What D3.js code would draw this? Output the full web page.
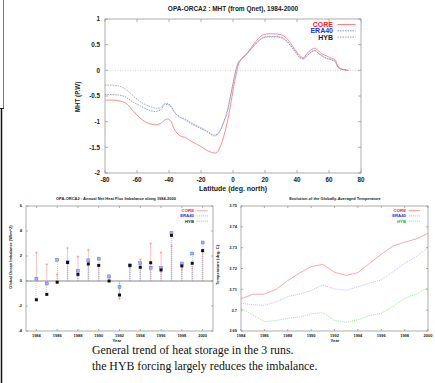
<!DOCTYPE html>
<html>
<head>
<meta charset="utf-8">
<script src="https://cdn.jsdelivr.net/npm/d3@7/dist/d3.min.js"></script>
<style>
  body { margin: 0; background: #fff; }
  svg { display: block; }
  .gp { font-family: "Liberation Sans", Arial, sans-serif; }
</style>
</head>
<body>
<svg id="slide" width="435" height="383"></svg>
<script>
// --- MHT (top panel) ---
const mhtLat    = [-80, -72, -67, -63, -58, -53, -48, -45, -42.8, -40.5, -38.6, -37, -35, -32.8, -29.7, -25.6, -20.4, -16.2, -12, -10, -7.9, -5.8, -3.7, -1.7, 0.4, 2.1, 3.7, 5.6, 8.7, 11.8, 15, 18.1, 21.2, 25.4, 29.5, 32.6, 35.7, 38.9, 42, 44.1, 46.1, 49.2, 51.3, 53.4, 55.5, 58.6, 61.7, 63.8, 65.2, 66.9, 70, 72];
const mhtCore   = [-0.58, -0.59, -0.64, -0.77, -0.93, -1.03, -1.06, -1.03, -0.97, -0.95, -1.0, -1.13, -1.22, -1.28, -1.31, -1.39, -1.48, -1.56, -1.61, -1.6, -1.48, -1.29, -1.03, -0.71, -0.32, -0.06, 0.14, 0.23, 0.33, 0.46, 0.59, 0.68, 0.71, 0.71, 0.70, 0.65, 0.54, 0.40, 0.28, 0.25, 0.32, 0.41, 0.43, 0.38, 0.32, 0.28, 0.23, 0.21, 0.10, 0.04, 0.01, 0];
const mhtEra40  = [-0.47, -0.48, -0.52, -0.61, -0.69, -0.77, -0.80, -0.76, -0.67, -0.67, -0.72, -0.80, -0.87, -0.92, -0.97, -1.05, -1.13, -1.19, -1.26, -1.25, -1.16, -1.0, -0.80, -0.51, -0.19, 0.04, 0.17, 0.23, 0.32, 0.43, 0.54, 0.62, 0.65, 0.65, 0.64, 0.59, 0.49, 0.36, 0.25, 0.23, 0.28, 0.36, 0.38, 0.33, 0.28, 0.23, 0.20, 0.17, 0.08, 0.03, 0.01, 0];
const mhtHyb    = [-0.29, -0.30, -0.37, -0.48, -0.61, -0.69, -0.74, -0.72, -0.65, -0.65, -0.70, -0.79, -0.87, -0.91, -0.95, -1.03, -1.11, -1.19, -1.28, -1.26, -1.17, -1.02, -0.84, -0.54, -0.22, 0.03, 0.16, 0.23, 0.32, 0.44, 0.55, 0.63, 0.66, 0.66, 0.65, 0.60, 0.50, 0.37, 0.24, 0.22, 0.28, 0.37, 0.39, 0.34, 0.29, 0.24, 0.21, 0.18, 0.09, 0.03, 0.01, 0];

// --- yearly panels ---
const years     = [1984, 1985, 1986, 1987, 1988, 1989, 1990, 1991, 1992, 1993, 1994, 1995, 1996, 1997, 1998, 1999, 2000];
const fluxCore  = [2.27, 1.33, 0.53, 2.64, 1.95, 2.48, 1.2, 0.3, -1.41, 1.1, 1.72, 3.0, 2.28, 2.8, 0.93, 1.4, 2.4];
const fluxEra40 = [0.19, -0.2, 1.7, 1.5, 0.83, 1.65, 1.79, 0.37, -0.48, 1.25, 1.42, 1.06, 1.06, 3.85, 1.4, 2.2, 3.08];
const fluxHyb   = [-1.5, -1.07, -0.1, 1.48, 0.53, 1.36, 1.25, 0.0, -1.12, 1.25, 1.1, 1.46, 0.88, 3.65, 1.2, 1.42, 2.43];

const tempCore  = [3.7055, 3.7076, 3.7077, 3.710, 3.7142, 3.7178, 3.7209, 3.722, 3.7182, 3.7167, 3.718, 3.7225, 3.7268, 3.7308, 3.7326, 3.7342, 3.7369];
const tempEra40 = [3.7033, 3.7026, 3.7023, 3.704, 3.7065, 3.7077, 3.7095, 3.7121, 3.7102, 3.7095, 3.7113, 3.713, 3.7145, 3.7185, 3.7225, 3.7257, 3.7302];
const tempHyb   = [3.7009, 3.6977, 3.6945, 3.695, 3.6961, 3.6967, 3.6982, 3.6988, 3.6951, 3.6942, 3.6954, 3.6974, 3.6985, 3.7017, 3.7057, 3.7077, 3.7108];

const runNames  = ["CORE", "ERA40", "HYB"];
const caption   = ["General trend of heat storage in the 3 runs.", "the HYB forcing largely reduces the imbalance."];

const svg = d3.select("#slide");

// slide edge lines at the left
svg.append("line").attr("x1", 3.5).attr("x2", 3.5).attr("y1", 0).attr("y2", 109).attr("stroke", "#777").attr("stroke-width", 1);
svg.append("line").attr("x1", 0).attr("x2", 4).attr("y1", 108.5).attr("y2", 108.5).attr("stroke", "#222").attr("stroke-width", 1);
svg.append("line").attr("x1", 1.5).attr("x2", 1.5).attr("y1", 108).attr("y2", 383).attr("stroke", "#111").attr("stroke-width", 1.5);

// draws a gnuplot-like frame with mirrored ticks
function frame(g, x, y, xTicks, yTicks, o) {
  const [x0, x1] = x.range(), [y1, y0] = y.range();
  g.append("rect").attr("x", x0).attr("y", y0).attr("width", x1 - x0).attr("height", y1 - y0)
    .attr("fill", "none").attr("stroke", "#999").attr("stroke-width", 0.8);
  xTicks.forEach(t => {
    const px = x(t);
    g.append("line").attr("x1", px).attr("x2", px).attr("y1", y1).attr("y2", y1 - o.tick).attr("stroke", "#999").attr("stroke-width", 0.8);
    g.append("line").attr("x1", px).attr("x2", px).attr("y1", y0).attr("y2", y0 + o.tick).attr("stroke", "#999").attr("stroke-width", 0.8);
    g.append("text").attr("class", "gp").attr("x", px).attr("y", y1 + o.xlabDy)
      .attr("text-anchor", "middle").attr("font-size", o.fs).attr("font-weight", "bold").attr("fill", "#222")
      .text(o.xfmt ? o.xfmt(t) : t);
  });
  yTicks.forEach(t => {
    const py = y(t);
    g.append("line").attr("x1", x0).attr("x2", x0 + o.tick).attr("y1", py).attr("y2", py).attr("stroke", "#999").attr("stroke-width", 0.8);
    g.append("line").attr("x1", x1).attr("x2", x1 - o.tick).attr("y1", py).attr("y2", py).attr("stroke", "#999").attr("stroke-width", 0.8);
    g.append("text").attr("class", "gp").attr("x", x0 - o.ylabDx).attr("y", py).attr("dy", "0.35em")
      .attr("text-anchor", "end").attr("font-size", o.fs).attr("font-weight", "bold").attr("fill", "#222")
      .text(o.yfmt ? o.yfmt(t) : t);
  });
}

function legend(g, items, xr, y0, dy, len, fs) {
  items.forEach((it, i) => {
    const yy = y0 + i * dy;
    g.append("text").attr("class", "gp").attr("x", xr).attr("y", yy).attr("dy", "0.35em")
      .attr("text-anchor", "end").attr("font-size", fs).attr("font-weight", "bold").attr("fill", it.text)
      .text(it.name);
    g.append("line").attr("x1", xr + len * 0.25).attr("x2", xr + len * 1.25).attr("y1", yy).attr("y2", yy)
      .attr("stroke", it.color).attr("stroke-width", 0.9).attr("stroke-dasharray", it.dash || null);
  });
}

function title(g, txt, x, y, fs) {
  g.append("text").attr("class", "gp").attr("x", x).attr("y", y).attr("text-anchor", "middle")
    .attr("font-size", fs).attr("font-weight", "bold").attr("fill", "#222").text(txt);
}
function ylab(g, txt, x, y, fs) {
  g.append("text").attr("class", "gp").attr("transform", `translate(${x},${y}) rotate(-90)`)
    .attr("text-anchor", "middle").attr("font-size", fs).attr("font-weight", "bold").attr("fill", "#222").text(txt);
}

// ---------- top: MHT ----------
{
  const g = svg.append("g");
  const x = d3.scaleLinear().domain([-80, 80]).range([105, 361]);
  const y = d3.scaleLinear().domain([-2, 1]).range([173, 19]);
  frame(g, x, y, d3.range(-80, 81, 20), [-2, -1.5, -1, -0.5, 0, 0.5, 1], { tick: 3, fs: 6.3, xlabDy: 9, ylabDx: 5 });
  g.append("line").attr("x1", x(-80)).attr("x2", x(80)).attr("y1", y(0)).attr("y2", y(0))
    .attr("stroke", "#bbb").attr("stroke-width", 0.7).attr("stroke-dasharray", "1,1.5");
  title(g, "OPA-ORCA2 : MHT (from Qnet), 1984-2000", 233, 11, 6.5);
  g.append("text").attr("class", "gp").attr("x", 233).attr("y", 191).attr("text-anchor", "middle")
    .attr("font-size", 7).attr("font-weight", "bold").attr("fill", "#222").text("Latitude (deg. north)");
  ylab(g, "MHT (P.W)", 80, 97, 6.3);
  const line = vals => d3.line().x((d, i) => x(mhtLat[i])).y(d => y(d)).curve(d3.curveCatmullRom)(vals);
  g.append("path").attr("d", line(mhtHyb)).attr("fill", "none").attr("stroke", "#999").attr("stroke-width", 0.8).attr("stroke-dasharray", "1.5,1");
  g.append("path").attr("d", line(mhtEra40)).attr("fill", "none").attr("stroke", "#7080ff").attr("stroke-width", 0.8).attr("stroke-dasharray", "1.5,1");
  g.append("path").attr("d", line(mhtCore)).attr("fill", "none").attr("stroke", "#ff7070").attr("stroke-width", 0.8);
  legend(g, [
    { name: runNames[0], color: "#ff7070", text: "#ff2020" },
    { name: runNames[1], color: "#7080ff", text: "#2030ff", dash: "1.5,1" },
    { name: runNames[2], color: "#999", text: "#222", dash: "1.5,1" }
  ], 333, 24.5, 6.3, 18, 7);
}

// ---------- bottom-left: flux imbalance ----------
{
  const g = svg.append("g");
  const x = d3.scaleLinear().domain([1983, 2001]).range([26, 213]);
  const y = d3.scaleLinear().domain([-4, 6]).range([331, 206]);
  frame(g, x, y, years.filter(v => v % 2 === 0), [-4, -2, 0, 2, 4, 6], { tick: 2, fs: 4, xlabDy: 6, ylabDx: 4 });
  g.append("line").attr("x1", x(1983)).attr("x2", x(2001)).attr("y1", y(0)).attr("y2", y(0))
    .attr("stroke", "#888").attr("stroke-width", 1);
  title(g, "OPA-ORCA2 : Annual Net Heat Flux Imbalance along 1984-2000", 116, 200, 4);
  g.append("text").attr("class", "gp").attr("x", 117).attr("y", 342).attr("text-anchor", "middle")
    .attr("font-size", 4.2).attr("font-weight", "bold").attr("fill", "#222").text("Year");
  ylab(g, "Global Ocean Imbalance (W/m^2)", 12, 257, 4);

  // impulses
  years.forEach((yr, i) => {
    const px = x(yr);
    g.append("line").attr("x1", px).attr("x2", px).attr("y1", y(0)).attr("y2", y(fluxCore[i]))
      .attr("stroke", "#ffa0a0").attr("stroke-width", 0.7);
    g.append("line").attr("x1", px + 0.3).attr("x2", px + 0.3).attr("y1", y(0)).attr("y2", y(fluxEra40[i]))
      .attr("stroke", "#90a0ff").attr("stroke-width", 0.6).attr("stroke-dasharray", "1,1");
    g.append("line").attr("x1", px - 0.3).attr("x2", px - 0.3).attr("y1", y(0)).attr("y2", y(fluxHyb[i]))
      .attr("stroke", "#aaa").attr("stroke-width", 0.6).attr("stroke-dasharray", "1,1");
  });
  // markers
  years.forEach((yr, i) => {
    const px = x(yr);
    g.append("path").attr("d", `M${px - 1.2},${y(fluxCore[i])}h2.4M${px},${y(fluxCore[i]) - 1.2}v2.4`)
      .attr("stroke", "#ff8080").attr("stroke-width", 0.6);
    g.append("rect").attr("x", px - 1.5).attr("y", y(fluxEra40[i]) - 1.5).attr("width", 3).attr("height", 3)
      .attr("fill", "#a0b0ff").attr("stroke", "#5060ff").attr("stroke-width", 0.4);
    g.append("rect").attr("x", px - 1.5).attr("y", y(fluxHyb[i]) - 1.5).attr("width", 3).attr("height", 3)
      .attr("fill", "#111");
  });
  legend(g, [
    { name: runNames[0], color: "#ffa0a0", text: "#ff2020" },
    { name: runNames[1], color: "#90a0ff", text: "#2030ff", dash: "1,1" },
    { name: runNames[2], color: "#aaa", text: "#222", dash: "1,1" }
  ], 194, 210.7, 5.2, 11, 4.3);
}

// ---------- bottom-right: temperature ----------
{
  const g = svg.append("g");
  const x = d3.scaleLinear().domain([1984, 2000]).range([241, 428]);
  const y = d3.scaleLinear().domain([3.69, 3.75]).range([331, 206]);
  frame(g, x, y, years.filter(v => v % 2 === 0), [3.69, 3.7, 3.71, 3.72, 3.73, 3.74, 3.75],
    { tick: 2, fs: 4, xlabDy: 6, ylabDx: 4, yfmt: d3.format("~g") });
  title(g, "Evolution of the Globally-Averaged Temperature", 335, 200, 4);
  g.append("text").attr("class", "gp").attr("x", 335).attr("y", 342).attr("text-anchor", "middle")
    .attr("font-size", 4.2).attr("font-weight", "bold").attr("fill", "#222").text("Year");
  ylab(g, "Temperature (deg. C)", 219, 265, 4);
  const line = d3.line().x((d, i) => x(years[i])).y(d => y(d));
  g.append("path").attr("d", line(tempHyb)).attr("fill", "none").attr("stroke", "#70d870").attr("stroke-width", 0.7).attr("stroke-dasharray", "1,1");
  g.append("path").attr("d", line(tempEra40)).attr("fill", "none").attr("stroke", "#a0a0ff").attr("stroke-width", 0.7).attr("stroke-dasharray", "1,1");
  g.append("path").attr("d", line(tempCore)).attr("fill", "none").attr("stroke", "#ff8080").attr("stroke-width", 0.7);
  legend(g, [
    { name: runNames[0], color: "#ff8080", text: "#ff2020" },
    { name: runNames[1], color: "#a0a0ff", text: "#2030ff", dash: "1,1" },
    { name: runNames[2], color: "#70d870", text: "#20b020", dash: "1,1" }
  ], 406, 210.7, 5.2, 11, 4.3);
}

// ---------- caption ----------
caption.forEach((t, i) => {
  svg.append("text").attr("x", 92).attr("y", 354 + i * 16)
    .attr("font-family", "'Liberation Serif', 'Times New Roman', serif").attr("font-size", 11.8)
    .attr("fill", "#111").text(t);
});
</script>
</body>
</html>
